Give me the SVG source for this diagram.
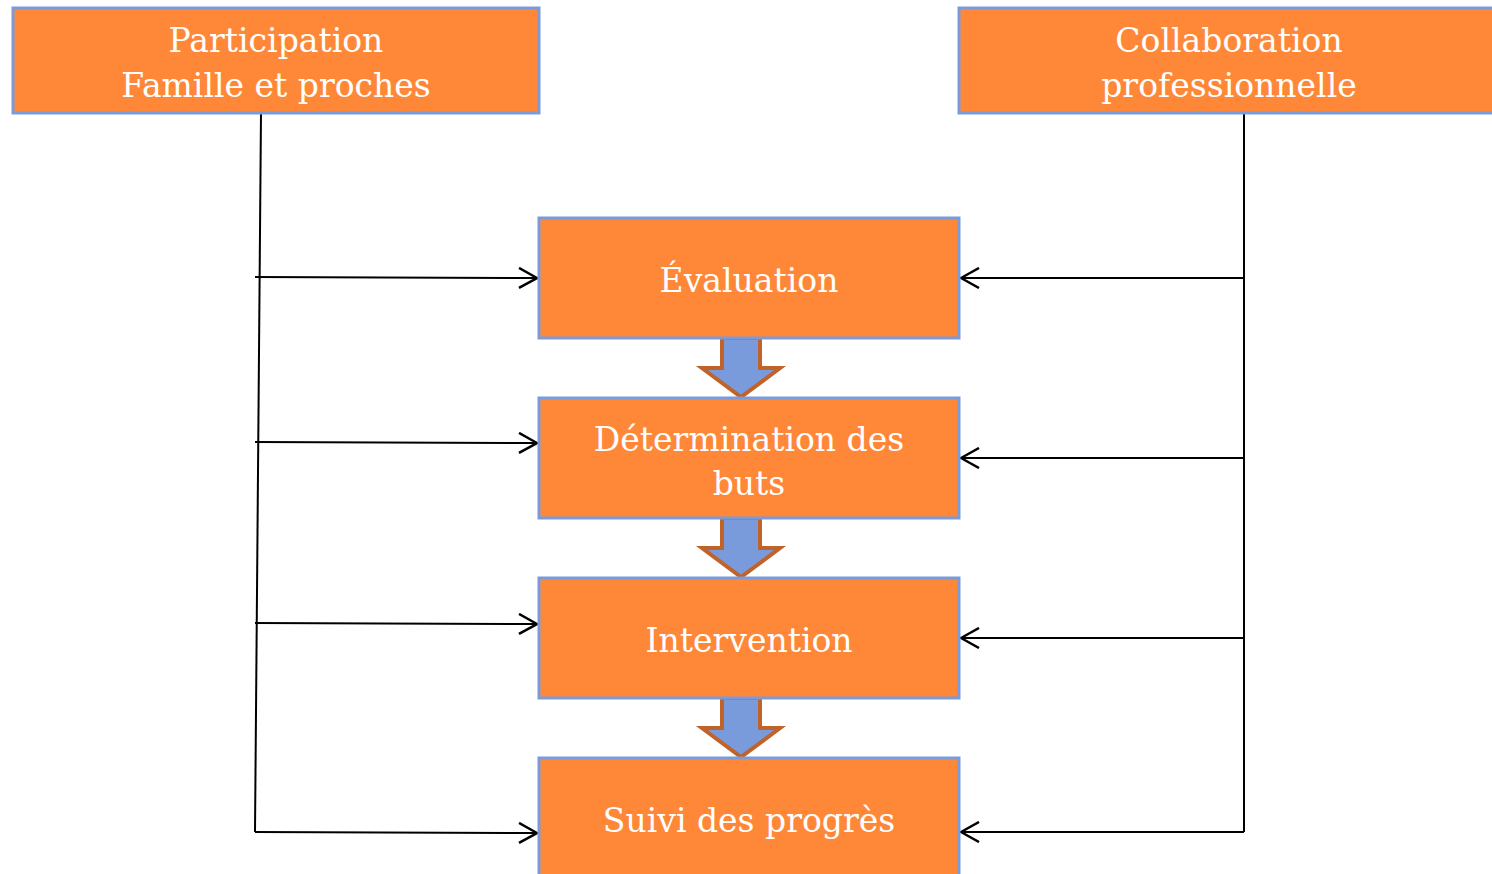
<svg xmlns="http://www.w3.org/2000/svg" width="1492" height="874" viewBox="0 0 1492 874">
<defs>
<style>
.box{fill:#FF8838;stroke:#7A9BDB;stroke-width:3}
.t{font-family:"DejaVu Serif","Liberation Serif",serif;font-size:33px;fill:#FFFFFF;text-anchor:middle}
.ln{stroke:#000;stroke-width:2;fill:none}
.blk{fill:#7A9BDB;stroke:#C0632A;stroke-width:4;stroke-linejoin:miter}
</style>
<marker id="ah" viewBox="0 0 20 22" refX="19" refY="11" markerWidth="20" markerHeight="22" markerUnits="userSpaceOnUse" orient="auto">
<path d="M1,1 L19,11 L1,21" fill="none" stroke="#000" stroke-width="2.5"/>
</marker>
</defs>
<rect width="1492" height="874" fill="#fff"/>
<g id="connectors">
<path class="ln" d="M261,113 L255,832"/>
<path class="ln" d="M1244,113 L1244,832"/>
<path class="ln" d="M255,277 L537,278" marker-end="url(#ah)"/>
<path class="ln" d="M255,442 L537,443" marker-end="url(#ah)"/>
<path class="ln" d="M255,623 L537,624" marker-end="url(#ah)"/>
<path class="ln" d="M255,832 L537,833" marker-end="url(#ah)"/>
<path class="ln" d="M1244,278 L961,278" marker-end="url(#ah)"/>
<path class="ln" d="M1244,458 L961,458" marker-end="url(#ah)"/>
<path class="ln" d="M1244,638 L961,638" marker-end="url(#ah)"/>
<path class="ln" d="M1244,832 L961,832" marker-end="url(#ah)"/>
<path class="blk" d="M722,338 L760,338 L760,368 L780,368 L741,397 L702,368 L722,368 Z"/>
<path class="blk" d="M722,518 L760,518 L760,548 L780,548 L741,577 L702,548 L722,548 Z"/>
<path class="blk" d="M722,698 L760,698 L760,728 L780,728 L741,757 L702,728 L722,728 Z"/>
</g>
<g id="participation">
<rect class="box" x="13" y="8" width="526" height="105"/>
<text class="t" x="276" y="52">Participation</text>
<text class="t" x="276" y="97">Famille et proches</text>
</g>
<g id="collaboration">
<rect class="box" x="959" y="8" width="540" height="105"/>
<text class="t" x="1229" y="52">Collaboration</text>
<text class="t" x="1229" y="97">professionnelle</text>
</g>
<g id="evaluation">
<rect class="box" x="539" y="218" width="420" height="120"/>
<text class="t" x="749" y="292">Évaluation</text>
</g>
<g id="determination">
<rect class="box" x="539" y="398" width="420" height="120"/>
<text class="t" x="749" y="451">Détermination des</text>
<text class="t" x="749" y="495">buts</text>
</g>
<g id="intervention">
<rect class="box" x="539" y="578" width="420" height="120"/>
<text class="t" x="749" y="652">Intervention</text>
</g>
<g id="suivi">
<rect class="box" x="539" y="758" width="420" height="130"/>
<text class="t" x="749" y="832">Suivi des progrès</text>
</g>
</svg>
